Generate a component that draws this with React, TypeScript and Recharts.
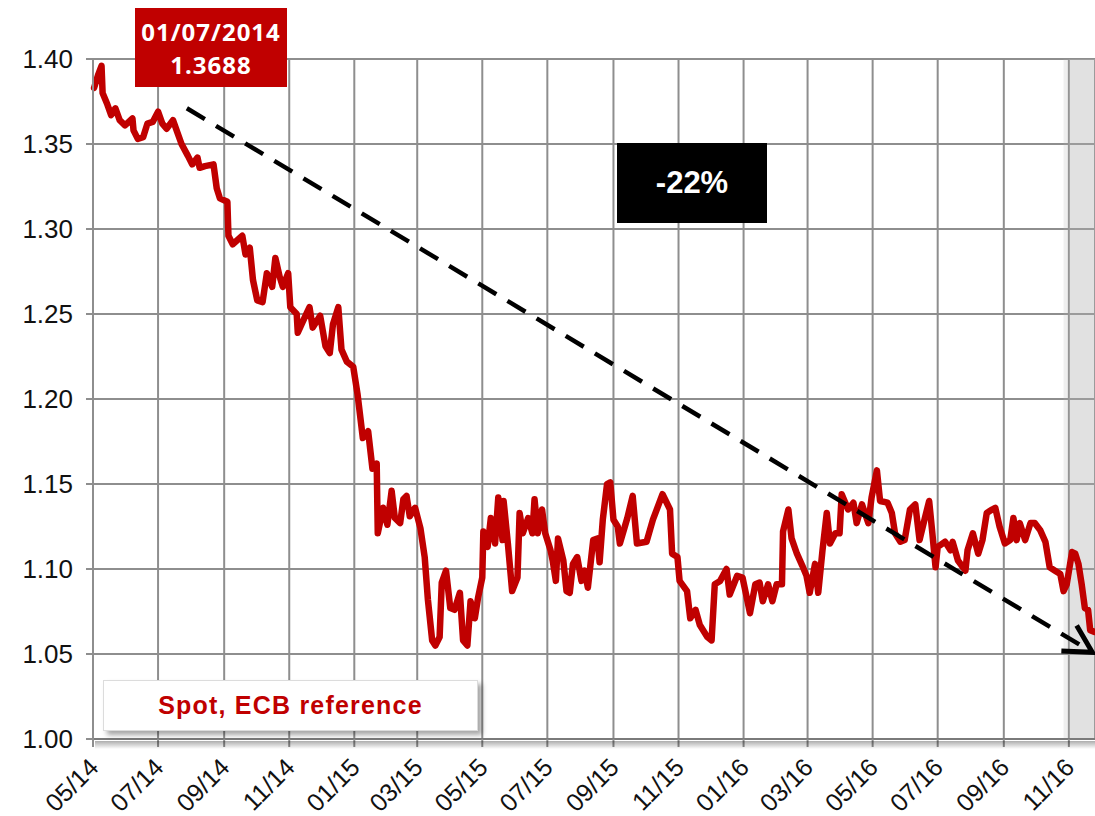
import { CartesianGrid, Line, LineChart, ReferenceArea, ReferenceLine, XAxis, YAxis } from 'recharts'

// EUR/USD spot, ECB reference rate. x = days since 01/05/2014
const START = Date.UTC(2014, 4, 1)
const DAY = 86400000

const tickMonths = [
  '2014-05', '2014-07', '2014-09', '2014-11', '2015-01', '2015-03', '2015-05', '2015-07',
  '2015-09', '2015-11', '2016-01', '2016-03', '2016-05', '2016-07', '2016-09', '2016-11',
]
const tickLabels = [
  '05/14', '07/14', '09/14', '11/14', '01/15', '03/15', '05/15', '07/15',
  '09/15', '11/15', '01/16', '03/16', '05/16', '07/16', '09/16', '11/16',
]
const yTicks = [1.0, 1.05, 1.1, 1.15, 1.2, 1.25, 1.3, 1.35, 1.4]

const spotDays = [
  1, 5, 8, 9, 13, 17, 21, 25, 30, 37, 38, 42, 47, 51, 56, 61, 65, 69, 75, 79, 83, 89, 93, 98, 100,
  105, 113, 116, 119, 126, 127, 131, 140, 143, 147, 150, 154, 159, 163, 168, 171, 175, 178, 183,
  185, 191, 192, 197, 203, 206, 213, 218, 222, 225, 230, 233, 238, 244, 248, 253, 258, 262, 266, 267,
  272, 276, 280, 283, 288, 291, 294, 297, 302, 307, 311, 314, 318, 321, 325, 327, 331, 335, 339,
  344, 347, 351, 354, 358, 361, 365, 366, 370, 373, 377, 380, 384, 385, 389, 393, 398, 400, 403,
  408, 412, 414, 417, 421, 424, 429, 431, 434, 436, 441, 444, 447, 450, 454, 458, 461, 464, 469,
  473, 475, 478, 482, 485, 488, 492,
  494, 501, 506, 510, 519, 525, 534, 541, 543, 548, 550, 557, 560, 565, 569, 576, 580, 583, 588,
  594, 597, 604, 609, 611, 616, 621, 625, 628, 633, 637, 641, 646, 647, 652, 655, 660, 665, 669,
  672, 677, 680, 684, 688, 691, 696, 700, 702, 708,
  713, 716, 721, 727, 730, 735, 738, 745, 749, 752, 757, 761, 766, 771, 775, 780, 784, 787, 790,
  792, 799, 804, 806, 811, 818, 820, 825, 830, 834, 838, 843, 846, 850, 855, 860, 863, 866, 869,
  874, 879, 883, 888, 893, 897, 902, 907, 910, 913, 918, 921, 924, 927, 930, 933, 935, 939,
]
const spotValues = [
  1.383, 1.391, 1.396, 1.38, 1.374, 1.367, 1.371, 1.364, 1.361, 1.365, 1.358, 1.353, 1.354, 1.362,
  1.363, 1.369, 1.362, 1.359, 1.364, 1.357, 1.35, 1.343, 1.338, 1.342, 1.336, 1.337, 1.338, 1.324,
  1.318, 1.316, 1.296, 1.291, 1.296, 1.285, 1.289, 1.27, 1.258, 1.257, 1.274, 1.266, 1.283, 1.272,
  1.266, 1.274, 1.254, 1.25, 1.239, 1.246, 1.254, 1.242, 1.249, 1.231, 1.227, 1.244, 1.254, 1.229,
  1.222, 1.219, 1.203, 1.177, 1.181, 1.159, 1.162, 1.121,
  1.136, 1.126, 1.146, 1.13, 1.127, 1.141, 1.143, 1.131, 1.136, 1.124, 1.107, 1.082, 1.058, 1.055,
  1.06, 1.092, 1.099, 1.077, 1.076, 1.086, 1.058, 1.055, 1.081, 1.071, 1.083, 1.095, 1.122, 1.113,
  1.13, 1.115, 1.142, 1.117, 1.14, 1.115, 1.087, 1.095, 1.133, 1.121, 1.13, 1.121, 1.141, 1.121,
  1.135, 1.121, 1.111, 1.105, 1.093, 1.118, 1.105, 1.087, 1.086, 1.103, 1.107, 1.093, 1.099, 1.089,
  1.117, 1.118, 1.104, 1.129, 1.15, 1.151, 1.129, 1.125,
  1.115, 1.13, 1.143, 1.115, 1.116, 1.129, 1.144, 1.135, 1.109, 1.107, 1.093, 1.087, 1.071, 1.076,
  1.067, 1.06, 1.058, 1.091, 1.093, 1.1, 1.085, 1.096, 1.095, 1.089, 1.074, 1.091, 1.092, 1.081,
  1.091, 1.081, 1.091, 1.091, 1.122, 1.135, 1.118, 1.109, 1.102, 1.096, 1.086, 1.103, 1.086, 1.111,
  1.133, 1.115, 1.121, 1.121, 1.144, 1.135,
  1.139, 1.127, 1.138, 1.127, 1.142, 1.158, 1.14, 1.139, 1.133, 1.121, 1.116, 1.117, 1.135, 1.138,
  1.117, 1.13, 1.14, 1.121, 1.101, 1.113, 1.116, 1.111, 1.116, 1.105, 1.099, 1.111, 1.121, 1.109,
  1.117, 1.133, 1.135, 1.136, 1.125, 1.115, 1.117, 1.13, 1.117, 1.127, 1.117, 1.127, 1.127, 1.123,
  1.116, 1.101, 1.099, 1.097, 1.087, 1.091, 1.11, 1.109, 1.103, 1.091, 1.077, 1.076, 1.064, 1.063,
]

// dashed trend from the July 2014 level to the latest fix (-22%)
const trendDays = [88, 937]
const trendValues = [1.371, 1.051]

// shaded recent period
const shadeDays = [910, 915, 939.5]

const tickDays = tickMonths.map((m) => {
  const [y, mo] = m.split('-').map(Number)
  return (Date.UTC(y, mo - 1, 1) - START) / DAY
})
const data = spotDays.map((d, i) => ({ day: d, spot: spotValues[i] }))

const FONT = '"Liberation Sans", Arial, sans-serif'
const RED = '#c00000'
const GRID = '#8e8e8e'

function XTick({ x, y, payload }: any) {
  const i = tickDays.indexOf(payload.value)
  const ax = x + 7
  const ay = y + 22
  return (
    <text x={ax} y={ay} transform={`rotate(-45 ${ax} ${ay})`} textAnchor="end" fontSize={25} fill="#111" fontFamily={FONT}>
      {tickLabels[i]}
    </text>
  )
}

function TrendArrow(props: any) {
  const { x1, y1, x2, y2 } = props
  const ang = Math.atan2(y2 - y1, x2 - x1)
  const L = 31
  const a1 = ang + Math.PI - 0.5
  const a2 = ang + Math.PI + 0.5
  return (
    <g>
      <line x1={x1} y1={y1} x2={x2} y2={y2} stroke="#000" strokeWidth={4.5} strokeDasharray="21 13" />
      <polyline
        points={`${x2 + L * Math.cos(a1)},${y2 + L * Math.sin(a1)} ${x2},${y2} ${x2 + L * Math.cos(a2)},${y2 + L * Math.sin(a2)}`}
        fill="none"
        stroke="#000"
        strokeWidth={5}
      />
    </g>
  )
}

export default function App() {
  return (
    <div style={{ position: 'relative', width: 1095, height: 816, background: '#fff', fontFamily: FONT, overflow: 'hidden' }}>
      <style>{'body{margin:0}'}</style>
      <LineChart width={1095} height={816} data={data} margin={{ top: 59, right: 0, left: 0, bottom: 0 }}>
        <ReferenceArea x1={shadeDays[0]} x2={shadeDays[1]} fill="#b0b0b0" fillOpacity={0.2} stroke="none" ifOverflow="visible" />
        <ReferenceArea x1={shadeDays[1]} x2={shadeDays[2]} fill="#b0b0b0" fillOpacity={0.38} stroke="none" ifOverflow="visible" />
        <CartesianGrid stroke={GRID} strokeWidth={2} />
        <XAxis
          dataKey="day"
          type="number"
          domain={[0, shadeDays[2]]}
          ticks={tickDays}
          interval={0}
          height={77}
          tickSize={8}
          tickMargin={0}
          tick={<XTick />}
          axisLine={{ stroke: '#7a7a7a', strokeWidth: 2 }}
          tickLine={{ stroke: GRID, strokeWidth: 2 }}
        />
        <YAxis
          type="number"
          domain={[1.0, 1.4]}
          ticks={yTicks}
          interval={0}
          width={93}
          tickSize={7}
          tickMargin={13}
          tickFormatter={(v: number) => v.toFixed(2)}
          tick={{ fill: '#111', fontSize: 26, fontFamily: FONT }}
          axisLine={{ stroke: GRID, strokeWidth: 2 }}
          tickLine={{ stroke: GRID, strokeWidth: 2 }}
        />
        <Line
          type="linear"
          dataKey="spot"
          stroke={RED}
          strokeWidth={6.5}
          strokeLinejoin="round"
          strokeLinecap="round"
          dot={false}
          isAnimationActive={false}
        />
        <ReferenceLine
          segment={[
            { x: trendDays[0], y: trendValues[0] },
            { x: trendDays[1], y: trendValues[1] },
          ]}
          ifOverflow="visible"
          shape={TrendArrow}
        />
      </LineChart>

      {/* shadow under the x axis */}
      <div style={{ position: 'absolute', left: 95, top: 741, width: 1000, height: 8, background: 'linear-gradient(rgba(0,0,0,0.32), rgba(0,0,0,0))' }} />

      {/* date callout */}
      <div
        style={{
          position: 'absolute', left: 135, top: 8, width: 152, height: 79, background: RED, color: '#fff',
          fontFamily: '"Open Sans", sans-serif', fontWeight: 700, fontSize: 24, lineHeight: '33px',
          textAlign: 'center', display: 'flex', flexDirection: 'column', justifyContent: 'center', letterSpacing: 1,
        }}
      >
        <div>01/07/2014</div>
        <div>1.3688</div>
      </div>

      {/* change label */}
      <div
        style={{
          position: 'absolute', left: 617, top: 143, width: 150, height: 80, background: '#000', color: '#fff',
          fontWeight: 700, fontSize: 31, display: 'flex', alignItems: 'center', justifyContent: 'center',
        }}
      >
        -22%
      </div>

      {/* series label */}
      <div
        style={{
          position: 'absolute', left: 103, top: 680, width: 375, height: 51, background: '#fff', boxSizing: 'border-box',
          border: '1px solid #dcdcdc', boxShadow: '4px 4px 5px rgba(0,0,0,0.35)', color: RED, fontWeight: 700,
          fontSize: 25, letterSpacing: 1.2, display: 'flex', alignItems: 'center', justifyContent: 'center',
        }}
      >
        Spot, ECB reference
      </div>
    </div>
  )
}
